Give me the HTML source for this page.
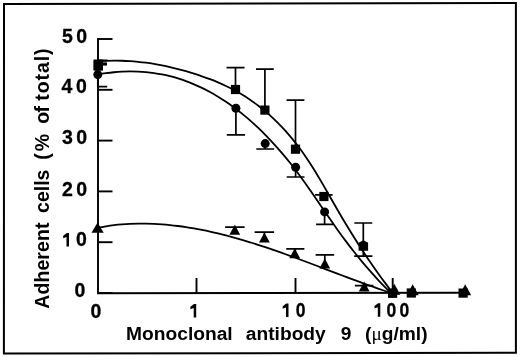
<!DOCTYPE html>
<html><head><meta charset="utf-8"><style>
html,body{margin:0;padding:0;background:#fff;}
body{width:520px;height:357px;overflow:hidden;}
svg{display:block;will-change:transform;}
text{font-family:"Liberation Sans",sans-serif;font-weight:bold;fill:#000;}
.n text{font-size:19.5px;letter-spacing:3.5px;stroke:#000;stroke-width:0.3px;}
.xt text{font-size:19.2px;letter-spacing:0px;}
.yt text{font-size:19.5px;letter-spacing:0.6px;}
.mu{font-family:"Liberation Serif",serif;font-weight:normal;}
</style></head><body>
<svg width="520" height="357" viewBox="0 0 520 357">
<path d="M4,4.1 L515.9,2.9 L515.9,352.7 L3.9,353.6 Z" fill="none" stroke="#000" stroke-width="2" stroke-linejoin="miter"/>
<g fill="none" stroke="#000" stroke-width="1.9">
<path d="M98,38 V293.2 L463,292.8"/>
<path d="M98,39.0 H112.5"/><path d="M98,89.8 H112.5"/><path d="M98,140.6 H112.5"/><path d="M98,191.4 H112.5"/><path d="M98,242.2 H112.5"/><path d="M98,293.0 H112.5"/>
<path d="M196.5,293 V278.0"/><path d="M295.5,293 V278.0"/><path d="M392.7,293 V278.0"/>
</g>
<g fill="none" stroke="#000" stroke-width="1.8">
<path d="M98.00,61.41 C100.67,61.18 103.33,61.01 106.00,60.89 C108.67,60.77 111.33,60.69 114.00,60.67 C116.67,60.65 119.33,60.67 122.00,60.75 C124.67,60.83 127.33,60.95 130.00,61.12 C132.67,61.29 135.33,61.52 138.00,61.78 C140.67,62.04 143.33,62.35 146.00,62.71 C148.67,63.07 151.33,63.47 154.00,63.91 C156.67,64.35 159.33,64.84 162.00,65.37 C164.67,65.90 167.33,66.47 170.00,67.08 C172.67,67.69 175.33,68.35 178.00,69.04 C180.67,69.73 183.33,70.46 186.00,71.23 C188.67,72.00 191.33,72.81 194.00,73.66 C196.67,74.51 199.33,75.39 202.00,76.31 C204.67,77.23 207.33,78.19 210.00,79.21 C212.67,80.23 215.33,81.29 218.00,82.42 C220.67,83.55 223.33,84.75 226.00,86.02 C228.67,87.29 231.33,88.62 234.00,90.05 C236.67,91.48 239.33,92.99 242.00,94.60 C244.67,96.21 247.33,97.90 250.00,99.71 C252.67,101.52 255.33,103.43 258.00,105.46 C260.67,107.49 263.33,109.65 266.00,111.92 C268.67,114.19 271.33,116.59 274.00,119.13 C276.67,121.67 279.33,124.35 282.00,127.18 C284.67,130.01 287.33,132.98 290.00,136.12 C292.67,139.26 295.33,142.57 298.00,146.07 C300.67,149.57 303.33,153.26 306.00,157.15 C308.67,161.04 311.33,165.16 314.00,169.47 C316.67,173.78 319.33,178.28 322.00,182.86 C324.67,187.44 327.33,192.11 330.00,196.79 C332.67,201.47 335.33,206.15 338.00,210.74 C340.67,215.33 343.33,219.85 346.00,224.27 C348.67,228.69 351.33,233.03 354.00,237.28 C356.67,241.53 359.33,245.70 362.00,249.78 C364.67,253.86 367.33,257.85 370.00,261.75 C372.67,265.65 375.33,269.47 378.00,273.20 C380.67,276.93 383.33,280.56 386.00,284.11 C388.00,286.77 390.00,289.38 392.00,291.94"/>
<path d="M98.00,74.47 C100.67,73.99 103.33,73.56 106.00,73.19 C108.67,72.82 111.33,72.50 114.00,72.24 C116.67,71.98 119.33,71.79 122.00,71.65 C124.67,71.51 127.33,71.44 130.00,71.43 C132.67,71.42 135.33,71.46 138.00,71.58 C140.67,71.70 143.33,71.88 146.00,72.13 C148.67,72.38 151.33,72.69 154.00,73.08 C156.67,73.47 159.33,73.91 162.00,74.44 C164.67,74.97 167.33,75.57 170.00,76.24 C172.67,76.91 175.33,77.65 178.00,78.47 C180.67,79.29 183.33,80.18 186.00,81.15 C188.67,82.12 191.33,83.17 194.00,84.30 C196.67,85.43 199.33,86.64 202.00,87.93 C204.67,89.22 207.33,90.59 210.00,92.04 C212.67,93.49 215.33,95.04 218.00,96.66 C220.67,98.28 223.33,99.99 226.00,101.79 C228.67,103.59 231.33,105.47 234.00,107.44 C236.67,109.41 239.33,111.47 242.00,113.63 C244.67,115.79 247.33,118.03 250.00,120.37 C252.67,122.71 255.33,125.15 258.00,127.68 C260.67,130.21 263.33,132.84 266.00,135.56 C268.67,138.28 271.33,141.11 274.00,144.03 C276.67,146.95 279.33,149.96 282.00,153.09 C284.67,156.22 287.33,159.46 290.00,162.81 C292.67,166.16 295.33,169.63 298.00,173.22 C300.67,176.81 303.33,180.53 306.00,184.32 C308.67,188.11 311.33,191.97 314.00,195.84 C316.67,199.71 319.33,203.60 322.00,207.48 C324.67,211.36 327.33,215.23 330.00,219.06 C332.67,222.89 335.33,226.69 338.00,230.42 C340.67,234.15 343.33,237.81 346.00,241.37 C348.67,244.93 351.33,248.39 354.00,251.77 C356.67,255.15 359.33,258.42 362.00,261.62 C364.67,264.82 367.33,267.92 370.00,270.95 C372.67,273.98 375.33,276.93 378.00,279.79 C380.67,282.65 383.33,285.44 386.00,288.15 C388.00,290.18 390.00,292.18 392.00,294.13"/>
<path d="M98.00,227.66 C100.67,227.14 103.33,226.68 106.00,226.27 C108.67,225.86 111.33,225.49 114.00,225.17 C116.67,224.85 119.33,224.59 122.00,224.37 C124.67,224.15 127.33,223.98 130.00,223.85 C132.67,223.72 135.33,223.64 138.00,223.60 C140.67,223.56 143.33,223.56 146.00,223.60 C148.67,223.64 151.33,223.74 154.00,223.86 C156.67,223.98 159.33,224.15 162.00,224.35 C164.67,224.55 167.33,224.79 170.00,225.06 C172.67,225.33 175.33,225.65 178.00,225.99 C180.67,226.33 183.33,226.70 186.00,227.11 C188.67,227.52 191.33,227.96 194.00,228.43 C196.67,228.90 199.33,229.41 202.00,229.94 C204.67,230.47 207.33,231.02 210.00,231.61 C212.67,232.20 215.33,232.81 218.00,233.45 C220.67,234.09 223.33,234.76 226.00,235.45 C228.67,236.14 231.33,236.85 234.00,237.59 C236.67,238.33 239.33,239.09 242.00,239.87 C244.67,240.65 247.33,241.45 250.00,242.27 C252.67,243.09 255.33,243.93 258.00,244.79 C260.67,245.65 263.33,246.53 266.00,247.42 C268.67,248.31 271.33,249.23 274.00,250.15 C276.67,251.07 279.33,252.01 282.00,252.96 C284.67,253.91 287.33,254.86 290.00,255.83 C292.67,256.80 295.33,257.78 298.00,258.77 C300.67,259.76 303.33,260.75 306.00,261.75 C308.67,262.75 311.33,263.75 314.00,264.76 C316.67,265.77 319.33,266.78 322.00,267.79 C324.67,268.80 327.33,269.82 330.00,270.83 C332.67,271.84 335.33,272.86 338.00,273.87 C340.67,274.88 343.33,275.89 346.00,276.89 C348.67,277.89 351.33,278.88 354.00,279.87 C356.67,280.86 359.33,281.85 362.00,282.82 C364.67,283.79 367.33,284.76 370.00,285.71 C372.67,286.66 375.33,287.60 378.00,288.53 C380.67,289.46 383.33,290.37 386.00,291.27 C388.00,291.94 390.00,292.61 392.00,293.27"/>
</g>
<g fill="none" stroke="#000" stroke-width="1.7">
<path d="M98.5,65.6 V60.4 M98.0,60.4 H107.7"/>
<path d="M235.5,89.5 V67.6 M226.5,67.6 H244.5"/>
<path d="M264.9,110.1 V69.2 M256.0,69.2 H273.8"/>
<path d="M295.5,149.2 V100.1 M286.6,100.1 H304.4"/>
<path d="M323.9,196.5 V194.8 M315.1,194.8 H332.6"/>
<path d="M363.3,246.2 V223.0 M354.3,223.0 H372.3"/>
<path d="M363.3,246.2 V256.2 M354.2,256.2 H372.4"/>
<path d="M97.8,74.6 V86.7 M98.0,86.7 H107.2"/>
<path d="M235.9,108.2 V134.8 M226.8,134.8 H245.0"/>
<path d="M265.2,143.6 V149.0 M256.3,149.0 H274.1"/>
<path d="M295.6,167.2 V177.0 M286.7,177.0 H304.5"/>
<path d="M324.6,211.9 V224.3 M316.1,224.3 H333.1"/>
<path d="M234.8,230.0 V227.1 M225.1,227.1 H244.6"/>
<path d="M264.4,237.0 V232.2 M254.6,232.2 H274.1"/>
<path d="M295.3,252.0 V248.9 M286.2,248.9 H304.4"/>
<path d="M324.8,262.0 V254.8 M315.6,254.8 H334.1"/>
<path d="M364.2,287.0 V285.6 M354.9,285.6 H373.4"/>
</g>
<g fill="#000">
<rect x="93.6" y="60.5" width="9.2" height="9.2"/>
<rect x="230.9" y="84.9" width="9.2" height="9.2"/>
<rect x="260.3" y="105.5" width="9.2" height="9.2"/>
<rect x="290.9" y="144.6" width="9.2" height="9.2"/>
<rect x="319.3" y="191.9" width="9.2" height="9.2"/>
<rect x="388.0" y="288.7" width="9.2" height="9.2"/>
<rect x="406.7" y="288.4" width="9.2" height="9.2"/>
<rect x="458.5" y="288.5" width="9.2" height="9.2"/>
<circle cx="97.8" cy="74.6" r="4.5"/>
<circle cx="235.9" cy="108.2" r="4.5"/>
<circle cx="265.2" cy="143.6" r="4.5"/>
<circle cx="295.6" cy="167.2" r="4.5"/>
<circle cx="324.6" cy="211.9" r="4.5"/>
<circle cx="392.6" cy="293.0" r="4.5"/>
<path d="M97.6,222.5 L103.7,232.7 L91.5,232.7 Z"/>
<path d="M234.8,224.8 L240.2,234.8 L229.4,234.8 Z"/>
<path d="M264.4,232.6 L269.8,242.6 L259.0,242.6 Z"/>
<path d="M294.7,248.3 L300.1,258.3 L289.3,258.3 Z"/>
<path d="M324.8,258.5 L330.2,268.5 L319.4,268.5 Z"/>
<path d="M364.2,281.4 L369.6,291.4 L358.8,291.4 Z"/>
<path d="M394.3,283.8 L400.3,294.8 L388.3,294.8 Z"/>
<path d="M412.7,284.2 L418.7,295.2 L406.7,295.2 Z"/>
<path d="M465.2,284.2 L471.2,295.2 L459.2,295.2 Z"/>
<rect x="93.6" y="59.5" width="9.3" height="11.2"/><rect x="102.6" y="62.4" width="4.4" height="3.2"/><path d="M358.6,242.7 L363.4,240.3 L368.1,242.7 L368.1,250.7 L358.6,250.7 Z"/>
<path transform="translate(63.20,233.00)" d="M0,2.7 L3.6,0 L5.8,0 L5.8,13.5 L3.3,13.5 L3.3,4.0 L0,5.2 Z"/><path transform="translate(190.40,304.00)" d="M0,2.7 L3.6,0 L5.8,0 L5.8,13.5 L3.3,13.5 L3.3,4.0 L0,5.2 Z"/><path transform="translate(282.70,303.60)" d="M0,2.7 L3.6,0 L5.8,0 L5.8,13.5 L3.3,13.5 L3.3,4.0 L0,5.2 Z"/><path transform="translate(374.50,303.30)" d="M0,2.7 L3.6,0 L5.8,0 L5.8,13.5 L3.3,13.5 L3.3,4.0 L0,5.2 Z"/>
</g>
<g class="n">
<text transform="translate(62.00,42.60) scale(1.000,1)">50</text><text transform="translate(61.60,93.00) scale(1.000,1)">40</text><text transform="translate(62.00,144.40) scale(1.000,1)">30</text><text transform="translate(62.00,195.80) scale(1.000,1)">20</text><text transform="translate(75.90,246.40) scale(1.000,1)">0</text><text transform="translate(74.60,297.30) scale(1.000,1)">0</text><text transform="translate(90.60,317.70) scale(1.000,1)">0</text><text transform="translate(295.75,316.80) scale(0.900,1)">0</text><text transform="translate(386.40,317.10) scale(0.900,1)">0</text><text transform="translate(399.40,317.10) scale(0.900,1)">0</text>
</g>
<g class="xt">
<text x="126.10" y="340.00">Monoclonal</text><text x="245.80" y="340.00">antibody</text><text x="340.70" y="340.00">9</text><text x="365.00" y="340.00">(<tspan class="mu">&#956;</tspan>g/ml)</text>
</g>
<g class="yt">
<text transform="translate(49.15,308.75) rotate(-90)" style="letter-spacing:0.08px">Adherent</text><text transform="translate(49.15,212.95) rotate(-90)" style="letter-spacing:0.0px">cells</text><text transform="translate(49.15,159.70) rotate(-90)" style="letter-spacing:2px">(%</text><text transform="translate(49.15,123.80) rotate(-90)" style="letter-spacing:-0.5px">of</text><text transform="translate(49.15,100.80) rotate(-90)" style="letter-spacing:0.95px">total)</text>
</g>
</svg>
</body></html>
